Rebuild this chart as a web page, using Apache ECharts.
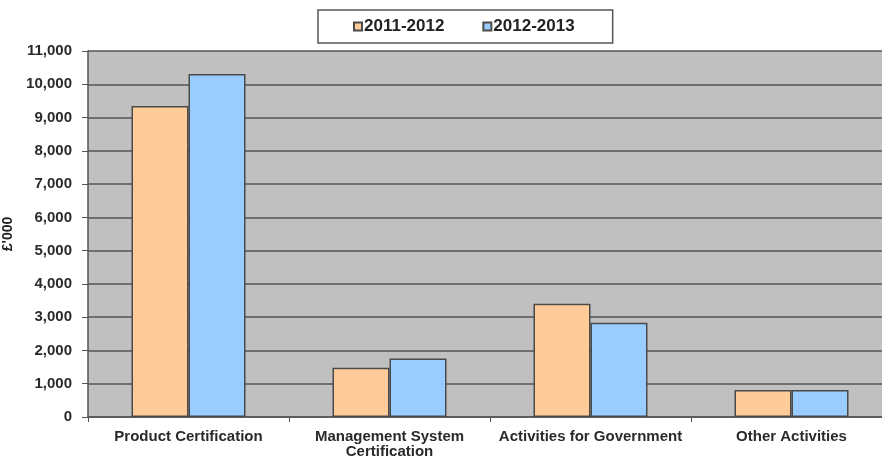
<!DOCTYPE html>
<html>
<head>
    <meta charset="utf-8" />
    <script src="https://cdn.jsdelivr.net/npm/echarts@6/dist/echarts.min.js"></script>
    <title></title>
</head>
<body style="margin:0;background:#fff">
    <div id="main" style="width: 882px;height:461px;"></div>
</body>
</html>
<script>
    var categories = ['Product Certification', 'Management System\nCertification', 'Activities for Government', 'Other Activities'];
    var years = ['2011-2012', '2012-2013'];
    var values2011 = [9350, 1480, 3400, 810];
    var values2012 = [10310, 1760, 2830, 810];

    var chart = echarts.init(document.getElementById('main'));
    var font = 'Liberation Sans, Arial, sans-serif';
    var barBorder = { borderColor: '#4a4a4a', borderWidth: 1.5 };

    var option = {
        animation: false,
        textStyle: { fontFamily: font },
        legend: {
            data: years,
            left: 318,
            top: 10,
            padding: [8, 38, 8, 35],
            itemGap: 38,
            itemWidth: 8,
            itemHeight: 8,
            icon: 'rect',
            borderColor: '#555',
            borderWidth: 1.5,
            backgroundColor: '#fff',
            textStyle: { fontSize: 17, fontWeight: 'bold', color: '#222', padding: [0, 0, 0, -3] }
        },
        grid: {
            left: 88,
            right: -10,
            top: 51,
            bottom: 44,
            outerBoundsMode: 'none',
            containLabel: false,
            show: true,
            backgroundColor: '#c0c0c0',
            borderWidth: 0
        },
        xAxis: {
            type: 'category',
            data: categories,
            axisLine: { lineStyle: { color: '#555', width: 1.5 } },
            axisTick: { show: true, alignWithLabel: false, length: 5, lineStyle: { color: '#555' } },
            axisLabel: { fontSize: 15, fontWeight: 'bold', color: '#2a2a2a', margin: 12, lineHeight: 15, interval: 0 }
        },
        yAxis: {
            type: 'value',
            min: 0,
            max: 11000,
            interval: 1000,
            name: "£'000",
            nameLocation: 'middle',
            nameGap: 66,
            nameTextStyle: { fontSize: 14, fontWeight: 'bold', color: '#222' },
            axisLine: { show: true, lineStyle: { color: '#555', width: 1.5 } },
            axisTick: { show: true, length: 6, lineStyle: { color: '#555' } },
            axisLabel: {
                fontSize: 15, fontWeight: 'bold', color: '#2a2a2a', margin: 16,
                formatter: function (v) { return v.toLocaleString('en-US'); }
            },
            splitLine: { lineStyle: { color: '#555', width: 1.5 } }
        },
        series: [
            {
                name: years[0],
                type: 'bar',
                data: values2011,
                barWidth: 57,
                barGap: '0%',
                itemStyle: Object.assign({ color: '#ffcc99' }, barBorder)
            },
            {
                name: years[1],
                type: 'bar',
                data: values2012,
                barWidth: 57,
                barGap: '0%',
                itemStyle: Object.assign({ color: '#99ccff' }, barBorder)
            }
        ]
    };

    chart.setOption(option);
</script>
